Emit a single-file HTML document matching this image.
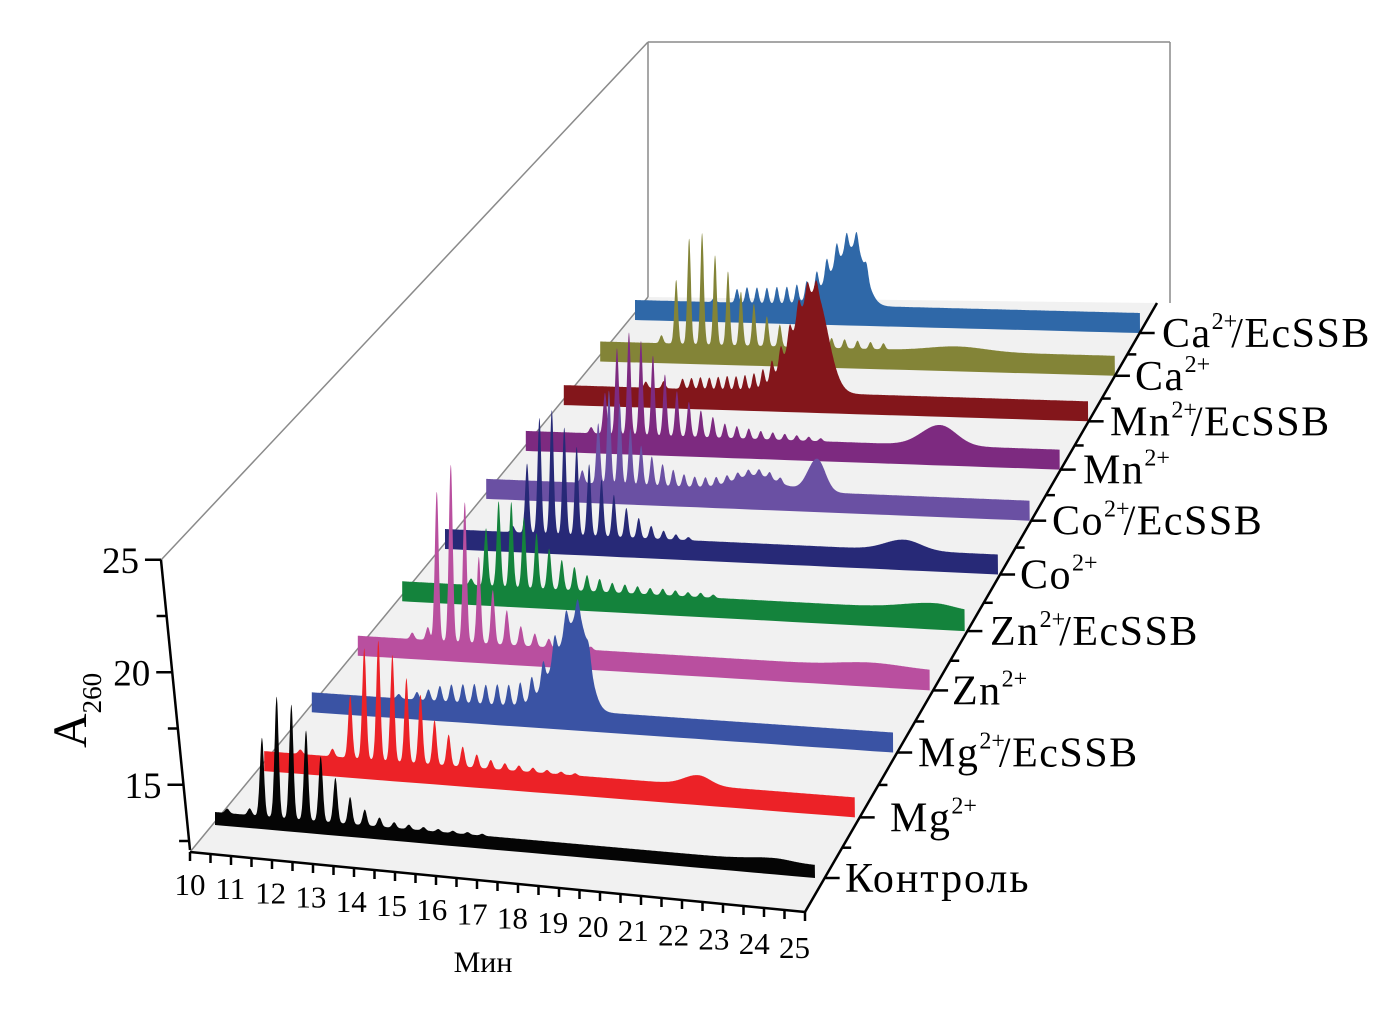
<!DOCTYPE html>
<html><head><meta charset="utf-8">
<style>
html,body{margin:0;padding:0;background:#fff;}
svg{display:block;font-family:"Liberation Serif",serif;}
</style></head>
<body>
<svg id="chart" width="1396" height="1026" viewBox="0 0 1396 1026" xmlns="http://www.w3.org/2000/svg">
  <g id="walls">
    <polygon points="190,852 805,912 1157,303 648,297" fill="#f1f1f1"/>
    <line x1="190" y1="852" x2="648" y2="297" stroke="#8a8a8a" stroke-width="1.5"/>
    <line x1="161" y1="560" x2="648" y2="42" stroke="#8a8a8a" stroke-width="1.5"/>
    <line x1="648" y1="42" x2="648" y2="297" stroke="#8a8a8a" stroke-width="1.5"/>
    <line x1="648" y1="42" x2="1170" y2="42" stroke="#8a8a8a" stroke-width="1.5"/>
    <line x1="1170" y1="42" x2="1170" y2="303" stroke="#8a8a8a" stroke-width="1.5"/>
  </g>
  <g id="ribbons"></g>
  <g id="axes"></g>
  <text transform="translate(86,748) rotate(-90)" font-size="48">A<tspan font-size="27" dy="15">260</tspan></text>
  <text x="483" y="972" font-size="30" text-anchor="middle">Мин</text>
</svg>
<script>
// ---- data ----
const seriesNames = ["Контроль","Mg2+","Mg2+/EcSSB","Zn2+","Zn2+/EcSSB","Co2+","Co2+/EcSSB","Mn2+","Mn2+/EcSSB","Ca2+","Ca2+/EcSSB"];
const seriesIons = ["","Mg","Mg","Zn","Zn","Co","Co","Mn","Mn","Ca","Ca"];
const seriesSuffix = ["","","/EcSSB","","/EcSSB","","/EcSSB","","/EcSSB","","/EcSSB"];
const seriesColors = ["#050505","#ec2227","#3a53a4","#b94f9f","#14833c","#272977","#6a50a3","#7d2a80","#83161b","#838437","#2f68a8"];
const ladderT0 = [11.45,12.44,12.96,12.33,12.49,12.48,13.33,12.48,13.63,12.47,13.27];
const ladderDt = [0.36,0.35,0.29,0.36,0.33,0.33,0.29,0.33,0.25,0.37,0.29];
const ladderHeights = [
  [3.5,5.4,5.1,4.0,2.9,2.0,1.2,0.7,0.4,0.25,0.2,0.15,0.12,0.1,0.1,0.08],
  [2.8,5.0,5.4,4.8,3.8,3.1,2.0,1.4,0.9,0.6,0.4,0.3,0.25,0.2,0.15,0.12,0.1],
  [0.35,0.5,0.7,0.8,0.85,0.9,0.9,0.95,0.95,1.0,1.0,1.05,1.1,1.0,0.9,0.6],
  [6.9,8.2,6.5,4.0,2.5,1.6,0.9,0.6,0.4,0.3,0.2,0.15],
  [2.7,4.0,4.0,3.3,2.6,1.9,1.4,1.1,0.75,0.6,0.45,0.4,0.35,0.3,0.3,0.25,0.2,0.2,0.15],
  [3.3,5.5,5.9,5.1,4.2,3.4,2.7,2.0,1.4,0.95,0.6,0.4,0.25,0.15],
  [2.9,4.5,3.9,2.7,1.9,1.4,1.05,0.8,0.6,0.5,0.45,0.4,0.35,0.3,0.3,0.3,0.3,0.25],
  [2.0,4.2,5.0,4.6,3.9,3.0,2.2,1.7,1.3,1.0,0.7,0.6,0.5,0.4,0.35,0.3,0.25,0.2,0.15],
  [0.5,0.55,0.6,0.6,0.65,0.7,0.7,0.75,0.8,0.85,0.9,0.9,0.9,0.9,0.8,0.6],
  [3.2,5.3,5.6,4.5,3.7,2.7,2.1,1.5,1.1,0.85,0.7,0.6,0.5,0.45,0.4,0.35,0.3],
  [0.7,0.8,0.8,0.8,0.85,0.85,0.9,0.9,1.0,1.0,1.0,0.9,0.8,0.6]
];
const prePeaks = [
  [[10.6,0.2],[11.15,0.3]],
  [[11.2,0.2],[12.0,0.35]],
  [[12.5,0.2]],
  [[11.7,0.3],[12.1,0.6]],
  [[12.1,0.3]],
  [[12.1,0.3]],
  [[12.9,0.6]],
  [[12.1,0.3]],
  [[12.6,0.3],[13.1,0.35]],
  [[12.05,0.4]],
  [[12.6,0.2]]
];
const humps = [
  [[24.0,0.15,0.6,0.4]],
  [[21.1,0.45,0.35,0.3]],
  [[17.05,4.2,0.55,0.25]],
  [[23.5,0.2,0.8,0.8]],
  [[24.2,0.3,0.8,0.5]],
  [[22.5,0.5,0.5,0.45]],
  [[17.6,0.7,0.6,0.6],[19.25,1.6,0.25,0.22]],
  [[21.7,1.0,0.5,0.45]],
  [[17.35,5.0,0.6,0.35]],
  [[20.5,0.25,0.8,0.8]],
  [[16.7,3.0,0.65,0.3]]
];
const xTicks = [10,11,12,13,14,15,16,17,18,19,20,21,22,23,24,25];
const yTicks = [15,20,25];
const yMinorTicks = [12.5,17.5,22.5];

// ---- projection ----
const tS = 10.3, tE = 25;
function Lx(i){return 215+50*i-0.8*i*i;}
function Ly(i){return 812-62*i+1.08*i*i;}
function Rx(i){return 815+40.7*i-0.82*i*i;}
function Ry(i){return 865-69*i+1.38*i*i;}
function kz(i){return 22.4-0.28*i;}
function px(t,i){return Lx(i)+(t-tS)/(tE-tS)*(Rx(i)-Lx(i));}
function pyBase(t,i){return Ly(i)+(t-tS)/(tE-tS)*(Ry(i)-Ly(i));}
function py(t,i,v){return pyBase(t,i)-v*kz(i);}
function thick(i){return i===0?13:20;}

function valueAt(i,t){
  let v=0;const sg=0.05;
  const hs=ladderHeights[i];
  for(let j=0;j<hs.length;j++){const c=ladderT0[i]+j*ladderDt[i];const d=(t-c)/sg;v+=hs[j]*Math.exp(-0.5*d*d);}
  for(const p of prePeaks[i]){const d=(t-p[0])/sg;v+=p[1]*Math.exp(-0.5*d*d);}
  for(const h of humps[i]){const w=t<h[0]?h[2]:h[3];const d=(t-h[0])/w;v+=h[1]*Math.exp(-0.5*d*d);}
  return v;
}

const NS="http://www.w3.org/2000/svg";
const ribbons=document.getElementById('ribbons');
for(let i=seriesNames.length-1;i>=0;i--){
  const pts=[];
  for(let t=tS;t<=tE+1e-9;t+=0.008){pts.push(px(t,i).toFixed(1)+','+py(t,i,valueAt(i,t)).toFixed(1));}
  for(let t=tE;t>=tS-1e-9;t-=0.5){pts.push(px(t,i).toFixed(1)+','+(pyBase(t,i)+thick(i)).toFixed(1));}
  pts.push(px(tS,i).toFixed(1)+','+(pyBase(tS,i)+thick(i)).toFixed(1));
  const poly=document.createElementNS(NS,'polygon');
  poly.setAttribute('points',pts.join(' '));
  poly.setAttribute('fill',seriesColors[i]);
  
  
  ribbons.appendChild(poly);
}

const axes=document.getElementById('axes');
function mk(tag,attrs,parent){const e=document.createElementNS(NS,tag);for(const k in attrs)e.setAttribute(k,attrs[k]);(parent||axes).appendChild(e);return e;}

// x axis
function xAx(t){return 190+41*(t-10);}
function xAy(t){return 852+4*(t-10);}
const xl=mk('line',{x1:xAx(10),y1:xAy(10),x2:xAx(25),y2:xAy(25),stroke:'#000','stroke-width':2.5});


for(let t=10;t<=25.001;t+=0.5){
  const tk=mk('line',{x1:xAx(t),y1:xAy(t),x2:xAx(t),y2:xAy(t)+9,stroke:'#000','stroke-width':2.5});
  
  
}
xTicks.forEach(t=>{
  const tx=mk('text',{x:xAx(t)-0.7*(t-10),y:xAy(t)+43+0.2*(t-10),'font-size':31,'text-anchor':'middle'});
  tx.textContent=t;
  
  
});

// y axis
function yAx(z){return 190-(z-12.1)*2.25;}
function yAy(z){return 850-(z-12.1)*22.5;}
const yl=mk('line',{x1:yAx(12.1),y1:yAy(12.1),x2:yAx(25),y2:yAy(25),stroke:'#000','stroke-width':2.5});


yTicks.forEach(z=>{
  const tk=mk('line',{x1:yAx(z),y1:yAy(z),x2:yAx(z)-16,y2:yAy(z),stroke:'#000','stroke-width':2.5});
  
  
  const tx=mk('text',{x:yAx(z)-22,y:yAy(z)+13,'font-size':37,'text-anchor':'end'});
  tx.textContent=z;
  
  
});
yMinorTicks.forEach(z=>{
  const tk=mk('line',{x1:yAx(z),y1:yAy(z),x2:yAx(z)-10,y2:yAy(z),stroke:'#000','stroke-width':2.5});
  
  
});

// depth axis
const da=mk('line',{x1:805,y1:912,x2:1157,y2:303,stroke:'#000','stroke-width':2.5});


function dAx(y){return 805+(912-y)*(352/609);}
const labelX=[845,890,918,952,990,1020,1052,1083,1110,1135,1162];
for(let i=0;i<seriesNames.length;i++){
  const yb=Ry(i)+thick(i);
  const x0=dAx(yb);
  const tk=mk('line',{x1:x0,y1:yb,x2:x0+15,y2:yb,stroke:'#000','stroke-width':2.5});
  
  
  if(i<seriesNames.length-1){
    const ym=(yb+Ry(i+1)+thick(i+1))/2;const xm=dAx(ym);
    const mt=mk('line',{x1:xm,y1:ym,x2:xm+9,y2:ym,stroke:'#000','stroke-width':2.5});
    
    
  }
  const tx=mk('text',{x:labelX[i],y:yb+14,'font-size':42,'letter-spacing':1.5});
  
  
  if(i===0){tx.textContent=seriesNames[0];tx.setAttribute('textLength',185);tx.setAttribute('lengthAdjust','spacing');}
  else{
    tx.appendChild(document.createTextNode(seriesIons[i]));
    const sup=document.createElementNS(NS,'tspan');sup.setAttribute('font-size',24);sup.setAttribute('dy',-18);sup.setAttribute('letter-spacing',0);sup.textContent='2+';tx.appendChild(sup);
    if(seriesSuffix[i]){const s=document.createElementNS(NS,'tspan');s.setAttribute('dy',18);s.setAttribute('dx',-6);s.textContent=seriesSuffix[i];tx.appendChild(s);}
  }
}
</script>
</body></html>
